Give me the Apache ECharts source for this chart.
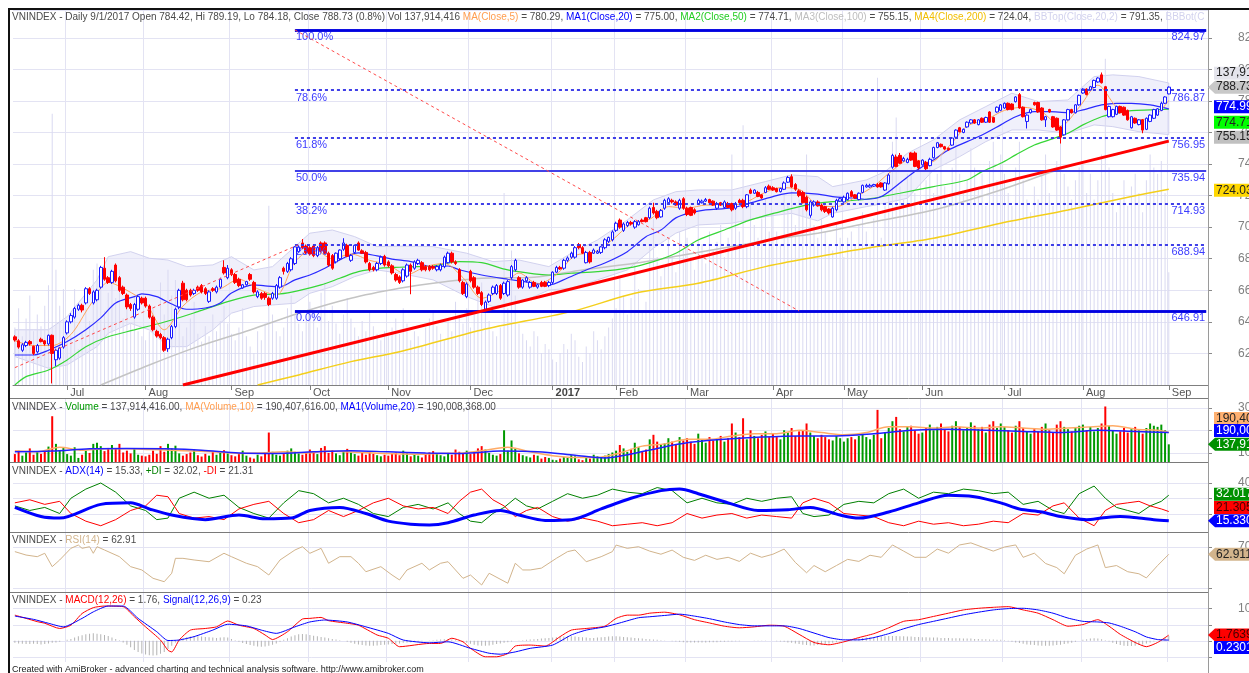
<!DOCTYPE html>
<html>
<head>
<meta charset="utf-8">
<title>VNINDEX Daily</title>
<script src="https://cdn.jsdelivr.net/npm/echarts/dist/echarts.min.js"></script>
<style>
  html, body { margin: 0; padding: 0; background: #fff; }
  #chart { width: 1249px; height: 673px; }
</style>
</head>
<body>
<div id="chart"></div>
<script>
const FONT = '"Liberation Sans", Arial, sans-serif';

// bar index where each month starts, and its label
const monthTicks = [[14,'Jul'],[35,'Aug'],[58,'Sep'],[79,'Oct'],[100,'Nov'],[122,'Dec'],[144,'2017'],[161,'Feb'],[180,'Mar'],[203,'Apr'],[222,'May'],[243,'Jun'],[265,'Jul'],[286,'Aug'],[309,'Sep']];
const slots = 320; // 310 bars + blank room on the right

// [open, close, low, high]
const candles = [
  // Jun 2016
  [630.5,628.5,627.5,631.5],[628,624,623,629],[622,625.5,621,626.5],[625,627,624,628],[627.5,626,625,628.5],[624.5,620,619,625],[621,625,620,626],[629,627.5,627,630],[628,626,625,628.5],[626,631.5,625,632],[631.5,620,601,632],[616,622,612,623],[617,623.5,616,624],[624,630,623,631],
  // Jul
  [633,640,632,641],[640,644,639,645.5],[643,648.5,642,649.5],[648,650.5,647,651.5],[650.5,647.5,646,651.5],[652,661,651,662],[661,658,657,662],[652,659,651,660],[654,660,653,661],[662,674.5,661,675.5],[674,667,666,681],[668,665,664,669],[665,672,664,673],[676,666,665,677],[668,660,659,669],[662,658,657,663],[657,649.5,648,658],[651,648.5,647,652],[643,651,642,652],[648,656,647,657],[655,652,651,656],
  // Aug
  [655,650,649,656],[650,643,642,651],[643,635,634,644],[634,631,630,635],[632,630,629,633],[630,622,621,631],[623,629,621,630],[630,637,629,638],[637,648,636,649],[649.5,660,648,661],[664.5,654,653,666],[660,654,653,661],[660,657,656,661],[658,660,657,661],[662,660,659,663],[663,659,658,664],[661,658,657,662],[653,659,652,660],[661,660,659,662],[659,662,658,663],[662,667,661,668],[674.5,671,670,679],[668,674,667,676],
  // Sep
  [673,670,669,674],[670,665,664,671],[667,663,662,668],[661.5,663.5,661,664],[663.5,665.5,663,666],[670,667,666,671],[665,659,658,666],[656,659,655,660],[658,655,654,659],[658,655.5,654,659],[655,651,650,656],[655,658,654,659],[655,663,654,664],[662,668,661,669],[674,672,670,675],[672,677,671,678],[673,680,672,681],[677,687.5,676,688],[684.5,687.5,684,688.5],[690,687,686,692.5],[688,684,683,689],
  // Oct
  [687,683,682,688],[688,682,681,689],[682,687,681,688],[690,685,684,691],[690,683.5,683,691],[683.5,676,675,684.5],[682,674,673,683],[678,683.5,677,684],[680,685.5,679,686],[686,690,685,693],[688.5,681.5,681,689.5],[679,682,678,683],[684,688.5,683,689],[690,685.5,685,691],[685,683.5,683,686],[684,678,677,685],[677,673,672,678],[674.5,673,672,675.5],[673,677,672,678],[677,681,676,682],[681.5,676,675,682.5],
  // Nov
  [678,675.5,674.5,679],[675.5,671,670,676.5],[670,666.5,665.5,671],[668.5,665,664,669.5],[666,673,665,674],[669,676,668,677],[676,672,657.5,677],[674,678,673,679],[677,679,676,680],[677.5,673,672,678.5],[675,673,672,676],[675,673,672,676],[675,674,673,676],[673,675,672,676],[673,676,672,677],[675,681,674,682],[677.5,683.5,677,684.5],[683.5,678,677,684.5],[678,677,676,679],[673,666,665,674],[665,658,657,666],[656,664,655,665],
  // Dec
  [672,666,665,673],[668,662,661,669],[662,658,657,663],[658.5,651,650,659.5],[648,652.5,646.5,653.5],[653,657,652,658],[658,662,657,663],[658,663,657,664],[663,655,654,664],[658,664.5,657,665.5],[657,665.5,656,666.5],[668,675,667,676],[673,679,672,680],[668,662,661,669],[662,666.5,661,667],[666,668,665,669],[662,665,661,666],[665,662.5,662,666],[662,663.5,661,664],[665,662.5,662,666],[665,662.5,662,666],[663,665,662,666],
  // Jan 2017
  [665,671.5,664,672],[671.5,674.5,671,675.5],[674.5,673.5,673,675.5],[674,679,673,680],[679,680.5,678,681.5],[681,683.5,680,684.5],[681,687,680,688],[689,687,686,690],[687,683.5,683,688],[677.5,684,677,685],[684,678,677,685],[683.5,685.5,683,686.5],[683.5,684.5,683,685.5],[684,687.5,683,688],[687,692,686,693],[691,693.5,690,694],[692,697,691,698],
  // Feb
  [698,702.5,697,703.5],[704.5,700,699,705.5],[698,702,697,703],[701,703,700,704],[703,702,701,704],[700,703.5,699,704.5],[701.5,703.5,701,704.5],[704.5,703.5,703,705.5],[706,703.5,703,706.5],[706,712,705,713],[712.5,709,708,715.5],[710,706,705,711],[706.5,710.5,706,711.5],[712,717,711,718],[715.5,718,715,719],[717,716,715,718],[716,714,713.5,717],[712,717,711,718],[718,712,711,719],
  // Mar
  [712,708,707,713],[712.5,707.5,707,713],[711,709,708,712],[715,717,714,718],[715.5,716.5,715,717.5],[716.5,717.5,716,718.5],[717.5,715.5,715,718],[716.5,714,713.5,717],[712,715,711,716],[715.5,714,713.5,716],[712.5,716,712,717],[715,712.5,712,716],[715,711,710,715.5],[712,715,711,716],[717,715.5,715,718],[717,713,712,718],[713,720.5,712,721],[723.5,721.5,721,724.5],[721.5,723.5,721,724],[722,719.5,719,723],[720.5,718.5,718,721],[722,725,721.5,726],[726,724,723.5,727],
  // Apr
  [725,723.5,723,726],[724.5,722.5,722,725],[722.5,724.5,722,725],[724,728,723.5,729],[728.5,731.5,728,732.5],[732,725.5,725,733.5],[727,724,723,728],[723,720,719,724],[722,715.5,715,723],[719,711,710,720],[707.5,716,706,717],[714,716,713,717],[716,713.5,713,717],[714,711,710,715],[713,710,709,713.5],[711.5,709,708,712],[706.5,712,706,713],[711,717,710,718],[716.5,718,716,719],
  // May
  [716,719,715.5,720],[717.5,721.5,717,722],[722.5,719.5,719,723.5],[720.5,718.5,718,721],[717.5,721.5,717,722],[722,726.5,721.5,727],[725.5,726.5,725,727.5],[725.5,726.5,725,727.5],[726,727,725.5,727.5],[727,725.5,725,728],[728,725.5,725,728.5],[723.5,728,723,728.5],[727.5,733,727,734],[738,745.5,737,746.5],[744.5,738.5,738,746],[745.5,740.5,740,747],[742,743.5,741.5,744.5],[741,743,740.5,744],[747,742.5,742,747.5],[747,738.5,738,748],[742,737.5,736.5,742.5],
  // Jun
  [739.5,742.5,739,743],[741,737,736,742],[739,743,738.5,744],[744,750.5,743.5,751],[750.5,753.5,750,754],[752.5,751,750.5,753],[751,749.5,749,751.5],[750,749,748.5,750.5],[752,756.5,751.5,757],[757,761.5,756.5,762],[763,760.5,760,763.5],[760,762,759.5,762.5],[763.5,766.5,763,767],[766,768,765.5,768.5],[768,766,765.5,768.5],[765,768,764.5,768.5],[769,766.5,766,769.5],[766.5,769.5,766,770],[773,766.5,766,773.5],[769.5,766.5,766,770],[773,776,772.5,776.5],[774,777.5,773.5,778],
  // Jul
  [775.5,778.5,775,779],[778.5,774.5,774,779],[778,774.5,774,778.5],[779.5,782.5,779,783],[784,775.5,775,785],[776,770,769.5,776.5],[767,771,762.5,771.5],[772.5,774.5,772,775],[779,777.5,777,779.5],[779,773,772.5,779.5],[775.5,768,767.5,776],[768,770,763.5,770.5],[774.5,773,772.5,775],[770,763.5,763,770.5],[769,761.5,761,769.5],[763.5,757,753,764],[758.5,768,758,768.5],[768,774.5,767.5,775],[774.5,772.5,772,775],[772.5,777.5,772,778],[777.5,783.5,777,784],
  // Aug
  [785,787.5,784.5,788],[787.5,784,783.5,788],[787,789,786.5,789.5],[788.5,793,788,793.5],[792,794.5,791.5,795],[796.5,791.5,791,798],[789,774.5,774,789.5],[770,776.5,769.5,777],[770,774.5,769.5,775],[771.5,776.5,771,777],[776.5,772.5,772,777],[776,771,770.5,776.5],[774,768,767.5,774.5],[763,770,762.5,770.5],[769,766,765.5,769.5],[765,768,764.5,768.5],[768,761.5,759.5,768.5],[762,769,761.5,769.5],[767,771,766.5,771.5],[769,774.5,768.5,775],[771,775,770.5,775.5],[774,778.5,773.5,779.5],[778.5,782.5,778,783],
  // Sep 1
  [784.42,788.73,784.18,789.19]
];

// volume, millions
const volume = [
  95,110,88,102,120,92,105,96,112,128,262,140,112,125,
  95,88,125,78,92,110,100,140,145,130,108,122,135,118,140,102,110,98,120,92,88,
  85,92,110,96,130,105,140,120,132,98,88,95,102,115,90,84,96,88,105,92,100,112,98,
  90,85,95,110,88,80,75,92,85,98,190,105,92,88,95,110,120,105,98,92,100,
  115,108,95,122,130,100,112,98,90,105,118,102,95,88,100,92,108,96,90,85,92,
  88,95,102,90,110,98,85,92,88,80,95,102,108,96,90,85,100,92,115,105,98,110,
  95,105,120,130,115,100,92,88,95,200,110,155,120,98,90,85,80,92,88,75,82,78,
  70,68,75,82,78,90,85,72,68,80,75,92,85,78,88,95,102,
  110,135,120,105,118,145,125,108,115,160,180,150,135,142,165,150,138,170,155,
  165,150,140,185,160,145,170,155,162,175,150,165,230,190,170,253,160,200,175,165,180,195,170,
  185,170,160,200,190,210,175,195,200,230,190,175,165,180,170,160,155,175,165,
  150,165,170,160,175,185,170,160,180,290,165,190,210,240,259,205,195,215,220,200,185,
  190,210,225,200,215,230,205,195,220,240,215,200,210,235,220,205,215,190,225,240,210,230,
  215,200,190,220,240,210,195,185,205,195,215,230,200,190,225,240,215,205,195,210,220,
  225,200,215,195,210,230,305,220,200,185,195,210,190,205,215,200,185,210,230,220,215,225,200,
  138
];

// price-pane overlays, [bar index, value]
const ma5Pts = [[0,628],[5,625],[10,625],[15,632],[20,650],[25,665],[30,660],[35,652],[40,635],[45,650],[50,659],[55,661],[60,667],[65,661],[70,657],[75,678],[80,686],[85,680],[90,683],[95,679],[100,676],[105,670],[110,675],[115,677],[120,668],[125,655],[130,660],[135,671],[140,664],[145,670],[150,682],[155,684],[160,692],[165,702],[170,705],[175,713],[180,712],[185,714],[190,714],[195,715],[200,721],[205,725],[210,724],[215,714],[220,713],[225,719],[230,726],[235,736],[240,743],[245,741],[250,751],[255,764],[260,768],[265,774],[270,776],[275,773],[280,764],[285,776],[290,790],[295,776],[300,768],[305,770],[309,780.29]];
const ma20Pts = [[0,619],[5,619],[9,622],[14,627.5],[19,635],[23,642.5],[27,652],[32,656],[34,657.7],[38,656],[42,651.3],[46,648],[51,648.8],[55,652],[58,658.3],[64,663.4],[67,662.8],[71,662.3],[75,666.6],[79,669.7],[83,674],[88,680.5],[92,683.7],[97,681.8],[101,679.8],[106,678.2],[112,675],[116,675.4],[119,673],[125,669.7],[132,667],[139,664.6],[143,663.4],[148,667.8],[153,672.9],[158,677.3],[164,684.5],[169,694],[173,698.2],[177,705.9],[181,709.2],[185,711],[192,712.2],[197,715.4],[203,719.4],[208,721.7],[215,721],[219,719.4],[224,718.5],[228,717.7],[232,719.4],[237,728],[241,735.2],[246,742.6],[250,748.9],[255,754.2],[259,758.4],[264,764.8],[268,770],[273,773.2],[277,773.2],[282,772.6],[286,774.3],[291,777.5],[295,778.5],[299,778.5],[304,777.5],[309,775]];
const ma50Pts = [[0,600],[3,605.3],[9,609.5],[14,615.9],[19,624.3],[25,630.6],[32,634.9],[36,637.4],[42,641.2],[49,646.5],[57,652.8],[64,657],[71,657.7],[76,659.8],[82,663.4],[87,667.6],[92,671.8],[98,674],[103,674.6],[108,675],[112,675.4],[119,678.2],[125,677.5],[132,672.9],[139,670.4],[143,669.7],[149,670.8],[156,671.8],[164,674],[171,678.2],[177,683.5],[183,691.9],[190,698.2],[197,704.6],[205,709.9],[211,713.5],[215,715.2],[219,716.2],[228,717.7],[237,721.5],[246,725.7],[255,729.9],[259,735.2],[264,740.5],[268,745.8],[273,752.1],[277,755.3],[282,759.5],[286,764.8],[291,770],[295,772.2],[299,773.9],[304,774.3],[309,774.71]];
const ma100Pts = [[23,600],[36,612.7],[49,624.3],[63,634.9],[76,645.5],[90,655],[103,661.3],[112,664.5],[125,667.6],[139,668.3],[152,672.9],[166,677.1],[179,682.4],[192,687.7],[205,693],[215,696.2],[228,702.5],[246,710.9],[264,723.6],[282,738.4],[299,748.9],[309,755.15]];
const ma200Pts = [[65,600],[76,606.4],[90,614.8],[103,621.1],[125,634.9],[149,646.5],[166,658.1],[183,664.5],[201,675],[215,681.3],[228,686.7],[246,693],[264,702.5],[282,710.9],[299,719.4],[309,724.04]];
const bbTop = [[0,635],[9,635],[14,643.3],[22,666.6],[25,681.3],[31,684.5],[36,680.3],[41,679.2],[46,675],[53,676.1],[58,681.3],[64,672.9],[69,675],[75,687.7],[79,696.2],[85,698.2],[91,694],[97,687.7],[103,688],[112,687.7],[121,683.5],[128,678.2],[135,679.2],[143,675],[149,683.5],[156,691.9],[164,704.6],[171,717.3],[177,722.5],[183,723.6],[192,723.6],[201,728.9],[208,733.1],[215,732],[219,725.7],[228,729.9],[233,735.2],[239,746.8],[246,755.3],[253,768],[260,776.4],[267,784.9],[274,779.6],[282,780.6],[289,795.4],[294,796.5],[301,795.4],[309,791.35]];
const bbBot = [[0,618],[9,610.6],[14,612.7],[22,624.3],[25,632.8],[31,639.1],[36,634.9],[41,624.3],[46,624.3],[53,634.9],[58,645.5],[64,649.7],[69,650.7],[75,651.8],[79,658.1],[85,662.3],[91,668.7],[97,672.9],[103,670.8],[112,666.6],[121,656],[128,649.7],[135,651.8],[143,660.2],[149,661.3],[156,666.6],[164,672.9],[171,686.7],[177,696.2],[183,701.4],[192,702.5],[201,706.7],[208,708.8],[215,704],[219,708.8],[228,713],[233,715.2],[239,718.3],[246,736.3],[253,744.7],[260,754.2],[267,761.6],[274,761.6],[282,759.5],[289,764.8],[294,763.7],[301,760.5],[309,758.65]];

// drawn lines
const trendPts = [[45,600],[309,754.5]];
const dashA = [[0,611],[76,688.9]];
const dashB = [[75,824.97],[210,646.91]];
const fibPct = ['100.0%','78.6%','61.8%','50.0%','38.2%','23.6%','0.0%'];
const fibVal = [824.97,786.87,756.95,735.94,714.93,688.94,646.91];
const fibFrom = 75, fibTo = 319;

// volume pane averages
const volMa10Pts = [[0,110],[6,105],[12,125],[18,112],[24,118],[30,118],[36,115],[42,112],[48,108],[54,104],[60,98],[66,100],[72,105],[78,100],[84,108],[90,104],[96,100],[102,96],[108,94],[114,98],[120,100],[126,112],[132,125],[138,105],[144,88],[150,80],[156,80],[162,100],[168,130],[174,140],[180,160],[186,160],[192,175],[198,185],[204,185],[210,200],[216,190],[222,180],[228,190],[234,215],[240,215],[246,210],[252,215],[258,210],[264,215],[270,210],[276,205],[282,210],[288,215],[294,220],[300,205],[306,200],[309,190.41]];
const volMa20Pts = [[0,105],[10,108],[20,118],[30,120],[40,118],[50,112],[60,100],[70,98],[80,105],[90,110],[100,105],[110,100],[120,98],[130,108],[140,105],[150,90],[158,78],[165,95],[172,120],[180,145],[190,160],[200,170],[210,175],[220,175],[230,185],[240,200],[250,205],[260,200],[270,195],[280,190],[290,200],[300,195],[309,190.01]];

// ADX pane
const adxPts = [[0,24],[7,18],[12,17],[23,26],[31,27],[36,23],[42,19],[51,16],[60,19],[67,16.5],[74,17],[79,22],[87,24],[94,20],[100,15],[106,13],[111,12.5],[116,14],[123,19],[130,22],[135,19],[142,15.5],[149,16],[157,23],[165,30],[173,35],[178,36],[183,33],[191,27],[199,22],[207,22.5],[213,24],[221,19],[226,17],[234,21],[242,27],[250,32],[257,31],[264,27],[269,23],[275,21],[280,18],[287,16],[291,17],[296,18],[301,17],[305,16],[309,15.33]];
const plusDiPts = [[0,25],[4,22],[8,24],[12,20],[15,30],[19,36],[23,40],[27,34],[31,25],[35,22],[38,16],[41,17],[44,30],[48,34],[52,30],[56,32],[60,24],[64,20],[68,17],[72,27],[76,35],[80,33],[84,27],[88,30],[92,26],[96,20],[100,18],[104,24],[108,26],[112,23],[116,27],[119,20],[122,15],[125,14],[128,20],[131,24],[134,30],[137,25],[140,23],[144,28],[148,33],[152,30],[156,32],[160,36],[164,34],[168,33],[172,37],[176,35],[180,27],[184,30],[188,27],[192,26],[196,30],[200,28],[204,30],[208,31],[211,20],[214,18],[218,19],[222,26],[226,28],[230,27],[234,33],[238,36],[242,30],[246,34],[250,33],[254,36],[258,35],[262,33],[266,34],[270,26],[274,28],[278,22],[281,20],[285,33],[289,38],[292,30],[295,24],[298,22],[301,20],[304,25],[307,28],[309,32.02]];
const minusDiPts = [[0,27],[4,29],[8,26],[12,28],[15,20],[19,15],[23,12],[27,16],[31,22],[35,25],[38,32],[41,31],[44,20],[48,17],[52,18],[56,16],[60,23],[64,26],[68,28],[72,20],[76,14],[80,16],[84,22],[88,18],[92,22],[96,27],[100,30],[104,25],[108,23],[112,24],[116,20],[119,28],[122,34],[125,36],[128,29],[131,25],[134,18],[137,22],[140,24],[144,18],[148,15],[152,17],[156,15],[160,12],[164,13],[168,14],[172,12],[176,14],[180,20],[184,17],[188,19],[192,20],[196,17],[200,19],[204,18],[208,17],[211,27],[214,30],[218,27],[222,20],[226,19],[230,18],[234,14],[238,12],[242,15],[246,13],[250,14],[254,12],[258,13],[262,15],[266,14],[270,20],[274,19],[278,25],[281,27],[285,17],[289,12],[292,22],[295,26],[298,27],[301,28],[304,25],[307,23],[309,21.31]];

// RSI pane
const rsiPts = [[0,65.5],[3,62.2],[6,60.6],[8,63.9],[10,50.9],[12,57.4],[15,68.7],[17,71.9],[18,68.7],[20,70.3],[21,63.9],[22,70.3],[24,67.1],[28,60.6],[31,50.9],[34,47.7],[37,39.6],[40,36.3],[42,44.5],[43,59],[45,59],[48,57.4],[52,55.7],[56,63.9],[58,60.6],[62,54.2],[65,50.9],[68,42.8],[71,57.4],[75,67.1],[77,70.3],[79,63.9],[82,68.7],[84,54.2],[87,60.6],[90,60.6],[92,54.2],[94,46],[98,50.9],[101,42.8],[103,38],[105,47.7],[109,54.2],[111,47.7],[114,54.2],[116,55.7],[120,39.6],[122,42.8],[125,33.1],[127,44.5],[132,34.8],[134,54.2],[136,47.7],[138,47.7],[141,49.5],[145,59],[148,65.5],[150,67.1],[153,55.7],[157,60.6],[160,65.5],[161,71.9],[164,68.7],[167,70.3],[170,66],[173,63],[176,67],[179,60],[182,57],[185,62],[188,58],[191,60],[194,56],[197,64],[200,60],[203,63],[206,68],[209,55],[212,45],[214,52],[217,46],[220,52],[223,58],[226,56],[229,62],[232,60],[235,72],[238,66],[241,60],[244,60],[247,68],[250,64],[253,72],[256,74],[259,70],[262,66],[265,70],[268,72],[270,60],[273,64],[276,54],[279,50],[281,44],[284,62],[287,68],[290,72],[292,50],[295,52],[298,46],[301,44],[303,40],[306,52],[309,62.91]];

// MACD pane
const macdPts = [[0,7.9],[3,6.9],[6,5.9],[8,5.4],[12,3.8],[15,4.8],[18,8.4],[21,10.2],[24,10.7],[29,10.5],[32,7.4],[35,4.3],[39,0.25],[41,-2.9],[42,-3.4],[44,0.25],[47,3.3],[51,3.8],[54,4.3],[57,6.1],[60,4.8],[64,3.8],[67,1.8],[69,0.4],[73,2.8],[77,6.7],[79,6.9],[82,7.2],[84,6.2],[89,5.4],[92,4.8],[97,1.8],[100,0.8],[103,-1.8],[111,-0.8],[114,-0.8],[117,0.8],[120,-0.3],[122,-2.3],[126,-4.9],[129,-4.9],[132,-3.9],[134,-1.6],[138,-1.3],[142,-1.6],[146,1.3],[149,3.3],[153,3.8],[158,4.5],[161,6.9],[164,7.9],[167,7.9],[170,8.5],[174,8.8],[178,8.0],[182,6.5],[186,5.5],[190,4.5],[194,4.0],[198,4.3],[202,4.8],[206,4.5],[210,2.0],[214,-0.5],[218,-1.2],[222,-0.3],[226,1.0],[230,2.2],[234,4.0],[238,6.0],[242,6.5],[246,7.5],[250,8.5],[254,9.5],[258,10.0],[262,10.3],[266,10.5],[270,9.5],[274,8.5],[278,6.5],[282,4.5],[286,5.0],[290,6.5],[293,4.5],[296,2.0],[300,-0.5],[303,-1.8],[306,-0.5],[309,1.76]];
const signalPts = [[0,7.6],[5,6.6],[9,5.4],[13,4.3],[18,6.9],[21,8.9],[25,10.7],[29,10.7],[33,6.9],[38,2.8],[41,0.1],[44,0.25],[48,1.3],[53,3.3],[57,5.1],[62,4.6],[66,3.3],[70,2.3],[75,4.3],[79,5.8],[83,6.4],[89,5.8],[94,4.3],[100,2.3],[104,0.25],[111,-0.6],[116,-0.3],[122,-2.3],[127,-3.8],[130,-4.1],[134,-3.4],[138,-2.3],[144,-1.3],[149,1.8],[153,3.3],[158,4.3],[162,5.5],[167,7.1],[170,7.4],[174,7.8],[178,8.2],[182,7.6],[186,6.8],[190,5.8],[194,5.0],[198,4.6],[202,4.6],[206,4.6],[210,3.8],[214,2.4],[218,1.0],[222,0.3],[226,0.3],[230,1.0],[234,2.2],[238,3.7],[242,5.0],[246,6.0],[250,7.0],[254,8.0],[258,8.8],[262,9.5],[266,9.9],[270,10.0],[274,9.5],[278,8.5],[282,7.0],[286,6.0],[290,5.8],[293,5.5],[296,4.5],[300,2.8],[303,1.2],[306,0.4],[309,0.23]];
const macdHist = [
  -0.6,-0.8,-0.9,-1.0,-1.0,-0.9,-1.0,-1.1,-1.0,-0.8,-0.6,-0.5,-0.3,0.0,
  0.3,0.6,1.0,1.4,1.7,2.0,2.2,2.3,2.2,2.0,1.8,1.5,1.0,0.6,0.2,
  -0.5,-1.2,-2.0,-2.8,-3.4,-3.9,-4.2,-4.4,-4.5,-4.4,-4.0,-3.4,-2.5,-1.5,
  -0.5,0.3,0.8,1.1,1.3,1.4,1.4,1.3,1.2,1.1,1.0,0.9,1.0,1.1,1.0,
  0.6,0.2,-0.3,-0.7,-1.0,-1.3,-1.5,-1.7,-1.8,-1.7,-1.5,-1.2,-0.8,
  -0.3,0.3,0.8,1.3,1.7,2.0,2.1,2.0,1.8,1.6,1.4,1.2,1.0,0.8,0.6,0.4,0.2,0.0,
  -0.3,-0.6,-0.9,-1.1,-1.3,-1.4,-1.5,-1.5,-1.4,-1.3,-1.2,-1.1,-1.0,-0.9,-0.8,-0.6,-0.5,-0.4,-0.3,-0.2,-0.1,0.0,
  0.1,0.2,0.3,0.4,0.5,0.5,0.4,0.2,0.0,-0.3,
  -0.6,-0.9,-1.2,-1.4,-1.5,-1.5,-1.4,-1.2,-1.0,-0.8,-0.6,-0.4,-0.2,0.0,0.1,
  0.2,0.3,0.4,0.5,0.6,0.7,0.8,0.9,1.0,1.1,1.2,1.3,1.4,1.4,1.3,1.2,1.1,1.0,0.9,0.9,1.0,1.1,1.2,1.3,1.4,1.4,1.3,1.2,1.1,1.0,0.9,0.8,
  0.7,0.6,0.5,0.4,0.3,0.2,0.1,0.0,-0.1,-0.2,-0.3,-0.4,-0.5,-0.5,
  -0.5,-0.5,-0.5,-0.5,-0.4,-0.4,-0.4,-0.3,-0.3,-0.2,-0.2,-0.1,-0.1,0.0,0.0,0.0,0.1,0.1,0.1,0.1,0.0,0.0,-0.1,-0.2,-0.3,-0.5,-0.6,-0.8,
  -1.0,-1.2,-1.3,-1.4,-1.4,-1.3,-1.2,-1.0,-0.8,-0.6,-0.4,-0.2,0.0,0.2,0.4,0.6,
  0.8,0.9,1.0,1.1,1.2,1.3,1.4,1.4,1.5,1.5,1.5,1.4,1.4,1.3,1.3,1.2,1.2,1.1,1.1,1.0,1.0,1.0,0.9,0.9,0.9,0.8,0.8,0.8,0.7,0.7,0.7,0.6,0.6,0.5,0.5,0.4,0.4,0.3,0.3,0.2,
  -0.1,-0.3,-0.5,-0.7,-0.9,-1.1,-1.2,-1.3,-1.4,-1.5,-1.5,-1.5,-1.4,-1.3,-1.2,-1.0,-0.8,-0.6,-0.3,0.0,
  0.3,0.5,0.7,0.8,0.7,0.5,0.2,-0.2,-0.6,-1.0,-1.3,-1.5,-1.6,-1.6,-1.5,-1.3,-1.1,-0.8,-0.5,-0.2,0.1,0.5,1.0,1.5
];

// right-hand axis ticks of the lower panes
const volTicks = [100, 200, 300];
const adxTicks = [20, 30, 40];
const rsiTicks = [30, 70];
const macdTicks = [-5, 0, 5, 10];

const cats = [];
for (let i = 0; i < slots; i++) cats.push(String(i));
const tickAt = {};
monthTicks.forEach(m => { tickAt[m[0]] = m[1]; });
const isTick = (i) => tickAt[i] !== undefined;

const chart = echarts.init(document.getElementById('chart'));

const L = 13, R = 41;
const grids = [
  { left: L, right: R, top: 10, height: 375, outerBoundsMode: 'none', containLabel: false },
  { left: L, right: R, top: 399, height: 63, outerBoundsMode: 'none', containLabel: false },
  { left: L, right: R, top: 463, height: 69, outerBoundsMode: 'none', containLabel: false },
  { left: L, right: R, top: 533, height: 59, outerBoundsMode: 'none', containLabel: false },
  { left: L, right: R, top: 593, height: 69, outerBoundsMode: 'none', containLabel: false }
];
const gridColor = '#e3e3f3';

const xAxes = grids.map((g, k) => ({
  type: 'category', gridIndex: k, data: cats, boundaryGap: true,
  axisLine: { show: k === 0, lineStyle: { color: '#7f7f7f' } },
  axisTick: { show: k === 0, interval: (i) => isTick(i), alignWithLabel: true, length: 5, lineStyle: { color: '#7f7f7f' } },
  axisLabel: {
    show: k === 0, interval: (i) => isTick(i), margin: 2, align: 'left', padding: [0, 0, 0, 3],
    fontSize: 11, color: '#555', fontFamily: FONT,
    formatter: (v) => { const t = tickAt[+v] || ''; return t === '2017' ? '{b|2017}' : t; },
    rich: { b: { fontWeight: 'bold', fontSize: 11, color: '#444', fontFamily: FONT } }
  },
  splitLine: { show: true, interval: (i) => isTick(i), lineStyle: { color: gridColor } }
}));

const yAxes = [
  { type: 'value', gridIndex: 0, position: 'right', min: 600, max: 837.6, interval: 20,
    axisLine: { show: true, lineStyle: { color: '#9a9a9a' } },
    axisTick: { show: true, length: 4, lineStyle: { color: '#8a8a8a' } },
    axisLabel: { margin: 30, color: '#7f7f7f', fontSize: 12, fontFamily: FONT, showMinLabel: false, showMaxLabel: false },
    splitLine: { lineStyle: { color: gridColor } } },
  { type: 'value', gridIndex: 0, min: 50, max: 343, show: false },
  { type: 'value', gridIndex: 1, min: 60, max: 338, show: false },
  { type: 'value', gridIndex: 2, min: 7.9, max: 53.1, show: false },
  { type: 'value', gridIndex: 3, min: 26.3, max: 83.6, show: false },
  { type: 'value', gridIndex: 4, min: -6.5, max: 14.7, show: false }
];

function line(data, xi, yi, color, width, extra) {
  return Object.assign({
    type: 'line', data, xAxisIndex: xi, yAxisIndex: yi, symbol: 'none', silent: true,
    lineStyle: { color, width }, z: 3
  }, extra || {});
}

function bandItem(params, api) {
  const pts = bbTop.map(p => api.coord(p));
  for (let k = bbBot.length - 1; k >= 0; k--) pts.push(api.coord(bbBot[k]));
  return { type: 'polygon', shape: { points: pts },
    style: { fill: 'rgba(228,228,248,0.55)', stroke: 'rgba(205,205,236,0.9)', lineWidth: 1 } };
}

// each level is drawn twice on the same coordinates: one carries the % label, the other the price
const solidFib = ['100.0%', '50.0%', '0.0%'];
const fibLines = [];
fibPct.forEach((p, k) => {
  const v = fibVal[k];
  const solid = solidFib.indexOf(p) >= 0;
  const heavy = p === '100.0%' || p === '0.0%';
  const ls = { color: heavy ? '#0000e0' : '#3434e6', width: heavy ? 2.5 : 1.5, type: solid ? 'solid' : [3, 3] };
  const lab = { color: '#3c3cff', fontSize: 11, fontFamily: FONT, distance: [1, 2] };
  fibLines.push([
    { coord: [fibFrom, v], lineStyle: ls, label: Object.assign({ show: true, position: 'insideStartBottom', formatter: p }, lab) },
    { coord: [fibTo, v] }
  ]);
  fibLines.push([
    { coord: [fibFrom, v], lineStyle: ls, label: Object.assign({ show: true, position: 'insideEndBottom', formatter: v.toFixed(2) }, lab) },
    { coord: [fibTo, v] }
  ]);
});

const volColored = volume.map((v, i) => ({
  value: v, itemStyle: { color: candles[i][1] >= candles[i][0] ? '#009900' : '#ff0000' }
}));

const rich = {};
[['g', '#4a4a4a'], ['o', '#ff9e50'], ['b', '#0000ff'], ['gr', '#22cc22'], ['s', '#bdbdbd'],
 ['y', '#f0bd00'], ['l', '#d2d2ee'], ['vg', '#009900'], ['r', '#ff0000'], ['t', '#d2b48c'], ['dg', '#008000']]
  .forEach(c => { rich[c[0]] = { color: c[1], fontSize: 10, fontFamily: FONT }; });

function header(top, text) {
  return { left: 12, top, padding: 0, text,
    textStyle: { fontSize: 10, fontWeight: 'normal', fontFamily: FONT, color: '#4a4a4a', rich,
      width: 1194, overflow: 'truncate', ellipsis: '' } };
}

const option = {
  animation: false,
  backgroundColor: '#ffffff',
  textStyle: { fontFamily: FONT },
  title: [
    header(12, '{g|VNINDEX - Daily 9/1/2017 Open 784.42, Hi 789.19, Lo 784.18, Close 788.73 (0.8%) Vol 137,914,416 }{o|MA(Close,5)}{g| = 780.29, }{b|MA1(Close,20)}{g| = 775.00, }{gr|MA2(Close,50)}{g| = 774.71, }{s|MA3(Close,100)}{g| = 755.15, }{y|MA4(Close,200)}{g| = 724.04, }{l|BBTop(Close,20,2)}{g| = 791.35, }{l|BBBot(Close,20,2)}{g| = 758.65}'),
    header(402, '{g|VNINDEX - }{vg|Volume}{g| = 137,914,416.00, }{o|MA(Volume,10)}{g| = 190,407,616.00, }{b|MA1(Volume,20)}{g| = 190,008,368.00}'),
    header(466, '{g|VNINDEX - }{b|ADX(14)}{g| = 15.33, }{dg|+DI}{g| = 32.02, }{r|-DI}{g| = 21.31}'),
    header(535, '{g|VNINDEX - }{t|RSI(14)}{g| = 62.91}'),
    header(595, '{g|VNINDEX - }{r|MACD(12,26)}{g| = 1.76, }{b|Signal(12,26,9)}{g| = 0.23}'),
    { left: 12, top: 665, padding: 0, text: 'Created with AmiBroker - advanced charting and technical analysis software. http://www.amibroker.com',
      textStyle: { fontSize: 9, fontWeight: 'normal', fontFamily: FONT, color: '#222' } }
  ],
  grid: grids,
  xAxis: xAxes,
  yAxis: yAxes,
  series: [
    { type: 'bar', data: volume, xAxisIndex: 0, yAxisIndex: 1, barWidth: 1, itemStyle: { color: '#d9d9f1' }, silent: true, z: 1 },
    { type: 'custom', data: [[0, 700]], xAxisIndex: 0, yAxisIndex: 0, renderItem: bandItem, silent: true, z: 1 },
    { type: 'line', data: [[fibFrom, fibVal[0]]], xAxisIndex: 0, yAxisIndex: 0, symbol: 'none', silent: true,
      lineStyle: { opacity: 0 }, z: 2,
      markLine: { silent: true, symbol: ['none', 'none'], animation: false, data: fibLines } },
    line(ma200Pts, 0, 0, '#f4cf1c', 1.5, { smooth: 0.3 }),
    line(ma100Pts, 0, 0, '#c4c4c4', 1.5, { smooth: 0.3 }),
    line(ma50Pts, 0, 0, '#36d636', 1.2, { smooth: 0.3 }),
    line(ma20Pts, 0, 0, '#2a2aff', 1.2, { smooth: 0.3 }),
    line(ma5Pts, 0, 0, '#ffa55a', 1, { smooth: 0.3 }),
    { type: 'candlestick', data: candles, xAxisIndex: 0, yAxisIndex: 0, barWidth: 3, silent: true, z: 4,
      itemStyle: { color: '#ffffff', color0: '#ff0000', borderColor: '#1a1aff', borderColor0: '#ff0000', borderWidth: 1 } },
    line(trendPts, 0, 0, '#ff0000', 3, { z: 5 }),
    line(dashA, 0, 0, '#ff4a4a', 1, { z: 5, lineStyle: { color: '#ff4a4a', width: 1, type: [3, 3] } }),
    line(dashB, 0, 0, '#ff4a4a', 1, { z: 5, lineStyle: { color: '#ff4a4a', width: 1, type: [3, 3] } }),

    { type: 'bar', data: volColored, xAxisIndex: 1, yAxisIndex: 2, barWidth: 2, silent: true, z: 2 },
    line(volMa10Pts, 1, 2, '#ffab66', 1.5, { smooth: 0.3 }),
    line(volMa20Pts, 1, 2, '#1f1fff', 1.5, { smooth: 0.3 }),

    line(plusDiPts, 2, 3, '#008000', 1),
    line(minusDiPts, 2, 3, '#ff0000', 1),
    line(adxPts, 2, 3, '#0000ff', 3, { smooth: 0.3 }),

    line(rsiPts, 3, 4, '#d2b48c', 1),

    { type: 'bar', data: macdHist, xAxisIndex: 4, yAxisIndex: 5, barWidth: 1, itemStyle: { color: '#b4b4b4' }, silent: true, z: 2 },
    line(macdPts, 4, 5, '#ff0000', 1, { smooth: 0.2 }),
    line(signalPts, 4, 5, '#0000ff', 1, { smooth: 0.2 })
  ]
};

chart.setOption(option);

// frame, lower-pane scales and the value tags on the right
const AX = 1208;
const py = (axis, v) => chart.convertToPixel({ yAxisIndex: axis }, v);
const g = [];
function hline(y, x1, x2, color, w, z) {
  g.push({ type: 'line', silent: true, z, shape: { x1, y1: y, x2, y2: y }, style: { stroke: color, lineWidth: w } });
}
function vline(x, y1, y2, color, w, z) {
  g.push({ type: 'line', silent: true, z, shape: { x1: x, y1, x2: x, y2 }, style: { stroke: color, lineWidth: w } });
}
function axisText(y, text) {
  g.push({ type: 'text', silent: true, z: 5, style: { x: AX + 30, y, text, fill: '#7f7f7f', fontSize: 12, fontFamily: FONT, verticalAlign: 'middle' } });
}

[[2, volTicks], [3, adxTicks], [4, rsiTicks], [5, macdTicks]].forEach(([a, ticks]) => {
  ticks.forEach(t => {
    const y = Math.round(py(a, t)) + 0.5;
    hline(y, L, AX, gridColor, 1, 0);
    hline(y, AX, AX + 4, '#8a8a8a', 1, 5);
  });
});
axisText(py(2, 300), '300000000');
axisText(py(2, 100), '100000000');
axisText(py(3, 40), '40');
axisText(py(4, 70), '70');
axisText(py(5, 10), '10');

[398.5, 462.5, 532.5, 592.5].forEach(y => hline(y, 10, AX, '#7a7a7a', 1, 6));
vline(AX + 0.5, 9, 673, '#9a9a9a', 1, 6);
hline(9, 8, 1249, '#111', 2, 7);
vline(9, 8, 673, '#111', 2, 7);

function tag(y, text, bg, fg, arrow) {
  const h = 6.5;
  if (arrow) {
    g.push({ type: 'polygon', silent: true, z: 20, shape: { points: [[AX, y], [AX + 7, y - h], [1262, y - h], [1262, y + h], [AX + 7, y + h]] }, style: { fill: bg } });
  } else {
    g.push({ type: 'rect', silent: true, z: 20, shape: { x: AX + 6, y: y - h, width: 50, height: 2 * h }, style: { fill: bg } });
  }
  g.push({ type: 'text', silent: true, z: 21, style: { x: AX + 8, y, text, fill: fg, fontSize: 12, fontFamily: FONT, verticalAlign: 'middle' } });
}
// [label, axis, value, shift, background, text colour, arrow]
const tags = [
  ['137,914', 0, 788.73, -14, '#e4e4ec', '#222', false],
  ['788.73', 0, 788.73, 0, '#c8c8c8', '#222', true],
  ['774.99', 0, 774.99, -2, '#0000ff', '#fff', false],
  ['774.71', 0, 774.71, 13, '#00ff00', '#222', false],
  ['755.15', 0, 755.15, -3, '#c0c0c0', '#222', false],
  ['724.03', 0, 724.04, 1, '#ffd700', '#222', false],
  ['190,407', 2, 190.41, -14, '#ffb070', '#222', false],
  ['190,008', 2, 190.01, -2, '#0000ff', '#fff', false],
  ['137,914', 2, 137.91, 0, '#009000', '#fff', true],
  ['32.017', 3, 32.02, -1, '#009000', '#fff', false],
  ['21.305', 3, 21.31, -4, '#ff0000', '#400', false],
  ['15.330', 3, 15.33, 0, '#0000ff', '#fff', true],
  ['62.911', 4, 62.91, 0, '#d2b48c', '#222', true],
  ['1.7639', 5, 1.76, 0, '#ff0000', '#400', true],
  ['0.2301', 5, 0.23, 7.5, '#0000ff', '#fff', false]
];
tags.forEach(t => tag(py(t[1], t[2]) + t[3], t[0], t[4], t[5], t[6]));

chart.setOption({ graphic: { elements: g } });
</script>
</body>
</html>
